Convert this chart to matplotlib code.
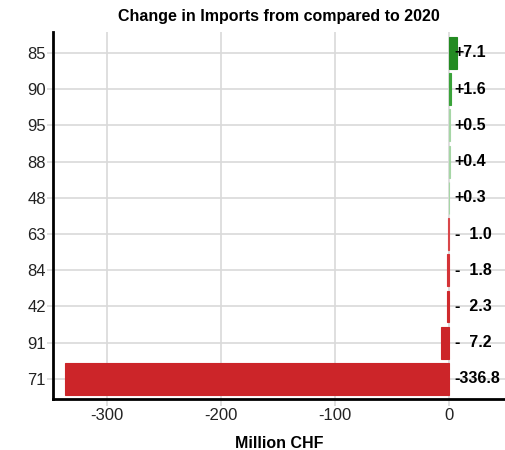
import matplotlib.pyplot as plt

plt.rcParams['font.family'] = ['Liberation Sans', 'DejaVu Sans']

# data (top to bottom)
codes = ['85', '90', '95', '88', '48', '63', '84', '42', '91', '71']
change = [7.1, 1.6, 0.5, 0.4, 0.3, -1.0, -1.8, -2.3, -7.2, -336.8]
bar_colors = ['#238b22', '#3aa33a', '#a6d6a6', '#a6d6a6', '#a6d6a6',
              '#d9474a', '#d43337', '#cf2a2d', '#cc2529', '#cc2529']


def fmt(v):
    if v >= 0:
        return f"+{v:.1f}"
    return f"-{abs(v):5.1f}"


def main():
    fig = plt.figure(figsize=(5.05, 4.5), dpi=100)
    ax = fig.add_axes([0.105, 0.113, 0.895, 0.816])

    y = list(range(len(codes)))
    ax.barh(y, change, height=0.88, color=bar_colors, edgecolor=bar_colors,
            linewidth=0.8, zorder=2)

    for yi, v in zip(y, change):
        ax.annotate(fmt(v), xy=(0, yi), xytext=(4, 0), textcoords='offset points',
                    va='center', ha='left', fontsize=11.5, fontweight='bold',
                    color='black', zorder=3)

    ax.set_yticks(y)
    ax.set_yticklabels(codes)
    ax.set_ylim(9.56, -0.58)
    ax.set_xlim(-347.5, 49)
    ax.set_xticks([-300, -200, -100, 0])
    ax.set_xticklabels(['-300', '-200', '-100', '0'])

    ax.grid(True, color='#d9d9d9', linewidth=1.2, zorder=0)
    ax.set_axisbelow(True)

    for s in ['top', 'right']:
        ax.spines[s].set_visible(False)
    for s in ['left', 'bottom']:
        ax.spines[s].set_linewidth(2)
        ax.spines[s].set_color('black')

    ax.tick_params(axis='both', colors='#d9d9d9', length=4, width=1.2,
                   labelcolor='#222222', labelsize=12, pad=1)
    ax.tick_params(axis='x', length=5, pad=1.5)

    ax.set_xlabel('Million CHF', fontsize=11.5, fontweight='bold', labelpad=9)
    ax.set_title('Change in Imports from compared to 2020', fontsize=11.5,
                 fontweight='bold', pad=8)

    fig.savefig('out.png', dpi=100)


if __name__ == "__main__":
    main()
